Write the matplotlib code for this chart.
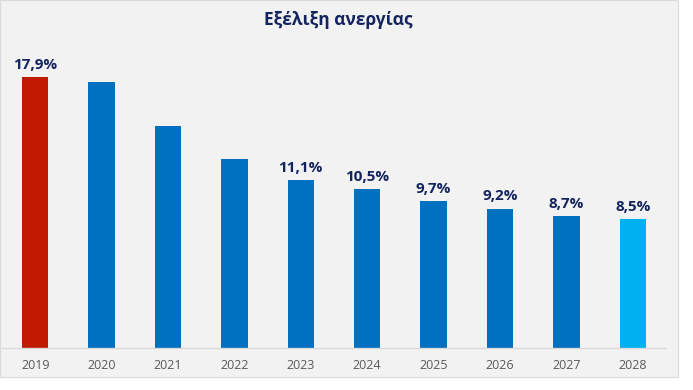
import matplotlib.pyplot as plt
from matplotlib.patches import Rectangle

years = ["2019", "2020", "2021", "2022", "2023", "2024", "2025", "2026", "2027", "2028"]
unemployment = [17.9, 17.6, 14.7, 12.5, 11.1, 10.5, 9.7, 9.2, 8.7, 8.5]
shown_labels = ["17,9%", "", "", "", "11,1%", "10,5%", "9,7%", "9,2%", "8,7%", "8,5%"]
bar_colors = ["#c01a00"] + ["#0070c0"] * 8 + ["#00b0f0"]

plt.rcParams['font.family'] = ['Open Sans', 'DejaVu Sans']

fig = plt.figure(figsize=(6.93, 3.9), dpi=100)
fig.patch.set_facecolor("white")
# grey panel behind the chart
fig.patches.append(Rectangle((0, 13 / 390), 678 / 693, 377 / 390, transform=fig.transFigure,
                             facecolor="#f2f2f2", edgecolor="#d9d9d9", linewidth=0.8, zorder=-10))

ax = fig.add_axes([2 / 693, 42 / 390, 664 / 693, 288 / 390])
ax.set_facecolor("none")
x = range(len(years))
ax.bar(x, unemployment, width=0.4, color=bar_colors, zorder=2)
ax.set_xlim(-0.5, len(years) - 0.5)
ax.set_ylim(0, 19.05)

for i, lbl in enumerate(shown_labels):
    if lbl:
        ax.annotate(lbl, (i, unemployment[i]), xytext=(0, 4), textcoords="offset points",
                    ha="center", va="bottom", fontsize=11, fontweight="bold", color="#13245e")

ax.set_xticks(list(x))
ax.set_xticklabels(years, fontsize=9, color="#595959")
ax.tick_params(axis="x", length=0, pad=8)
ax.set_yticks([])
for side in ["top", "right", "left"]:
    ax.spines[side].set_visible(False)
ax.spines["bottom"].set_color("#d9d9d9")
ax.spines["bottom"].set_linewidth(1)

fig.text(338 / 693, 1 - 20 / 390, "Εξέλιξη ανεργίας", ha="center", va="center",
         fontsize=12.5, fontweight="bold", color="#13245e")

fig.savefig("out.png", dpi=100)
